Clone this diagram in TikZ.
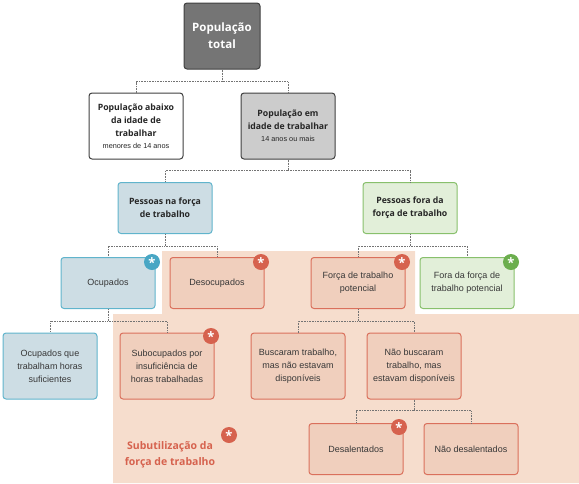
\documentclass[tikz,border=0pt]{standalone}
\usepackage{fontspec}
\setmainfont{Open Sans}
\newfontfamily\bodyfont{Liberation Sans}
\definecolor{darkbox}{RGB}{117,117,117}
\definecolor{greybox}{RGB}{204,204,204}
\definecolor{bluefill}{RGB}{205,221,228}
\definecolor{bluedraw}{RGB}{96,180,204}
\definecolor{bluemark}{RGB}{72,166,196}
\definecolor{greenfill}{RGB}{226,239,217}
\definecolor{greendraw}{RGB}{136,192,108}
\definecolor{greenmark}{RGB}{108,174,78}
\definecolor{redfill}{RGB}{240,207,189}
\definecolor{reddraw}{RGB}{218,112,92}
\definecolor{redmark}{RGB}{214,98,78}
\definecolor{redzone}{RGB}{246,221,205}
\definecolor{textgrey}{RGB}{55,55,55}
\tikzstyle{box}=[draw, rounded corners=3pt, line width=1pt, minimum width=94pt, minimum height=51pt,
                 align=center, inner sep=2pt, text=textgrey,
                 font=\bodyfont\fontsize{9}{13}\selectfont]
\tikzstyle{tallbox}=[minimum height=66pt]
\tikzstyle{head}=[box, draw=black!75, text=black!85, font=\bfseries\fontsize{8.7}{13}\selectfont]
\tikzstyle{bluebox}=[box, draw=bluedraw, fill=bluefill]
\tikzstyle{greenbox}=[box, draw=greendraw, fill=greenfill]
\tikzstyle{redbox}=[box, draw=reddraw, fill=redfill]
\tikzstyle{badge}=[circle, inner sep=0, minimum size=16pt, text=white,
                   font=\bfseries\fontsize{13}{13}\selectfont, text height=1.15em, text depth=0pt]
\tikzstyle{link}=[densely dotted, draw=black!55, line width=0.6pt]
\newcommand{\smallnote}[1]{{\bodyfont\mdseries\fontsize{7.3}{10}\selectfont #1}}

\begin{document}
\begin{tikzpicture}[x=1pt, y=-1pt]
    \useasboundingbox (0,0) rectangle (579,483);
    % shaded zone behind the underutilisation boxes
    \fill[redzone] (162,251) -- (415,251) -- (415,314) -- (579,314) -- (579,483)
        -- (113,483) -- (113,314) -- (162,314) -- cycle;

    \node[head, fill=darkbox, text=white, minimum width=76pt, minimum height=66pt,
          font=\bfseries\fontsize{11.5}{17}\selectfont] (total) at (222, 36) {População\\total};
    \node[head, tallbox, fill=white] (abaixo) at (136, 126)
        {População abaixo\\da idade de\\trabalhar\\[-1pt]\smallnote{menores de 14 anos}};
    \node[head, tallbox, fill=greybox] (idade) at (288, 126)
        {População em\\idade de trabalhar\\[-1pt]\smallnote{14 anos ou mais}};

    \node[head, draw=bluedraw, fill=bluefill] (naforca) at (165, 208) {Pessoas na força\\de trabalho};
    \node[head, draw=greendraw, fill=greenfill] (foraforca) at (410, 208) {Pessoas fora da\\força de trabalho};

    \node[bluebox] (ocup) at (108, 283) {Ocupados};
    \node[redbox] (desoc) at (217, 283) {Desocupados};
    \node[redbox] (potencial) at (358, 283) {Força de trabalho\\potencial};
    \node[greenbox] (forapot) at (467, 283) {Fora da força de\\trabalho potencial};

    \node[bluebox, tallbox] (suficientes) at (50, 366) {Ocupados que\\trabalham horas\\suficientes};
    \node[redbox, tallbox] (subocup) at (167, 366) {Subocupados por\\insuficiência de\\horas trabalhadas};
    \node[redbox, tallbox] (buscaram) at (298, 366) {Buscaram trabalho,\\mas não estavam\\disponíveis};
    \node[redbox, tallbox] (naobusc) at (414, 366) {Não buscaram\\trabalho, mas\\estavam disponíveis};

    \node[redbox] (desal) at (356, 449) {Desalentados};
    \node[redbox] (naodesal) at (471, 449) {Não desalentados};

    \node[align=center, text=redmark, font=\bfseries\fontsize{10.5}{15.5}\selectfont] (subutil) at (170, 455)
        {Subutilização da\\força de trabalho};

    % asterisk badges
    \node[badge, fill=bluemark] (ocupmark) at (152, 262) {*};
    \node[badge, fill=redmark] (desocmark) at (261, 262) {*};
    \node[badge, fill=redmark] (potmark) at (402, 262) {*};
    \node[badge, fill=greenmark] (forapotmark) at (511, 262) {*};
    \node[badge, fill=redmark] (subocupmark) at (211, 336) {*};
    \node[badge, fill=redmark] (desalmark) at (399, 427) {*};
    \node[badge, fill=redmark] (subutilmark) at (229, 435) {*};

    % tree links
    \draw[link] (total.south) -- ++(0,12) -| (abaixo.north);
    \draw[link] (total.south) -- ++(0,12) -| (idade.north);
    \draw[link] (idade.south) -- ++(0,11) -| (naforca.north);
    \draw[link] (idade.south) -- ++(0,11) -| (foraforca.north);
    \draw[link] (naforca.south) -- ++(0,12) -| (ocup.north);
    \draw[link] (naforca.south) -- ++(0,12) -| (desoc.north);
    \draw[link] (foraforca.south) -- ++(0,12) -| (potencial.north);
    \draw[link] (foraforca.south) -- ++(0,12) -| (forapot.north);
    \draw[link] (ocup.south) -- ++(0,12) -| (suficientes.north);
    \draw[link] (ocup.south) -- ++(0,12) -| (subocup.north);
    \draw[link] (potencial.south) -- ++(0,12) -| (buscaram.north);
    \draw[link] (potencial.south) -- ++(0,12) -| (naobusc.north);
    \draw[link] (naobusc.south) -- ++(0,11) -| (desal.north);
    \draw[link] (naobusc.south) -- ++(0,11) -| (naodesal.north);
\end{tikzpicture}
\end{document}
